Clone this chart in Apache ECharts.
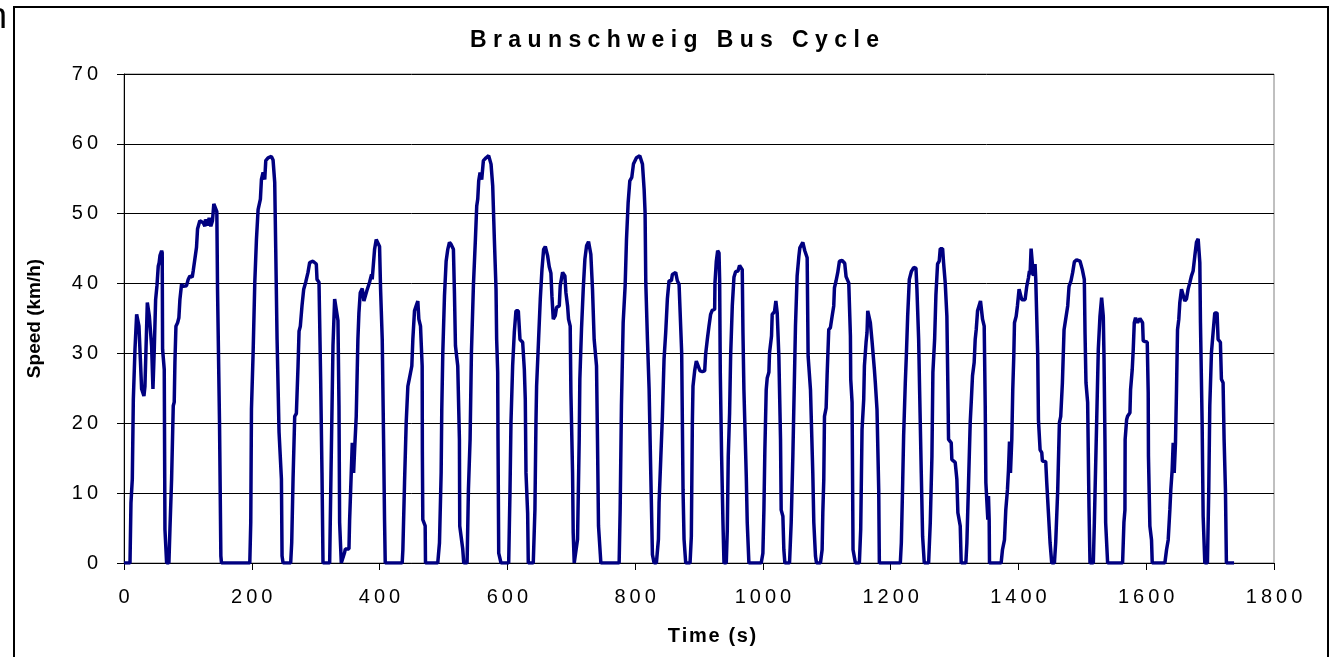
<!DOCTYPE html>
<html>
<head>
<meta charset="utf-8">
<script src="https://cdn.jsdelivr.net/npm/echarts@6/dist/echarts.min.js"></script>
<style>
  html, body { margin: 0; padding: 0; background: #fff; }
  #chart { width: 1332px; height: 657px; }
</style>
</head>
<body>
<div id="chart"></div>
<script>
// Braunschweig bus cycle
const timeS = [
  0, 9.4, 10.9, 13, 14.6, 17.2, 19.8, 22.4, 23.4, 27.6, 31.2, 32.8, 36.5, 39.6, 43.2, 45.3, 47.4, 49.5, 51.6, 53.6,
  55, 56.3, 58.9, 59.8, 60.4, 63, 64.1, 66.7, 70.3, 71.9, 74.5, 77.1, 78.6, 79.7, 81.3, 83.9, 85.9, 87.5, 90.1, 92.7,
  95.3, 97.9, 100.5, 103.1, 106.8, 108.3, 110.9, 113.5, 115.1, 118.7, 121.4, 124, 126.6, 127.6, 130.7, 133.3, 135.9, 138.5, 140.6, 143.2,
  145.3, 146.4, 149.5, 151.6, 152.6, 196.9, 198.4, 199.5, 202.1, 204.7, 207.3, 209.9, 213.5, 215.1, 217.7, 220.3, 221.9, 225.5, 230.7, 233.3,
  235.9, 237.5, 239.6, 242.7, 246.4, 247.4, 249, 260.9, 262.5, 264.6, 267.2, 269.8, 272.4, 274, 276, 278.6, 281.3, 284.4, 288, 290.6,
  295.8, 301, 302.1, 305.2, 306.3, 307.8, 309.9, 311.5, 321.9, 324, 327.1, 329.7, 332.3, 334.9, 336.5, 337.5, 340.1, 345.3, 346.4, 352.1,
  353.1, 355.7, 357.3, 359.4, 361, 363.5, 366.1, 367.7, 369.8, 372.9, 375.5, 378.1, 380.2, 384.4, 387.5, 388.5, 392.2, 394.8, 397.4, 400,
  401.6, 404.2, 406.3, 407.8, 408.9, 435.4, 436.5, 439.1, 441.7, 444.3, 446.9, 450.5, 452.1, 454.7, 457.3, 459.9, 461.5, 464.1, 466.7, 467,
  467.7, 471.4, 471.9, 491.1, 493.8, 496.4, 497.4, 499, 501.6, 504.2, 506.8, 509.4, 512, 515.6, 517.2, 518.8, 522.4, 525, 525.5, 530.2,
  531.8, 537, 539.1, 541.7, 543.8, 546.9, 550, 552.1, 553.7, 555.2, 557.3, 559.9, 562.5, 566.7, 570.8, 574.5, 577.1, 579.7, 582.3, 583.3,
  584.9, 585.4, 586.5, 590.1, 602.1, 604.2, 605.7, 608.3, 610.9, 613.5, 617.2, 619.8, 624, 626.6, 628.1, 629.2, 631.8, 632.8, 640.6, 643.2,
  644.8, 645.8, 648.9, 651.6, 654.2, 656.8, 659.4, 663, 665.6, 668.2, 669.8, 671.9, 675, 677.1, 681.3, 682.8, 686.5, 690.1, 691.7, 694.3,
  695.8, 698.4, 699.5, 702.1, 703.1, 704.7, 707.3, 709.9, 712.5, 713.5, 716.1, 718.8, 721.4, 724, 727.1, 730.7, 733.3, 735.9, 739.6, 741.1,
  742.7, 746.4, 775, 776.6, 778.6, 781.3, 784.4, 786.5, 789.1, 791.7, 794.8, 797.4, 802.1, 807.3, 811.5, 814.1, 815.6, 816.7, 819.3, 821.9,
  824.5, 827.1, 829.7, 833.3, 836.5, 837.5, 840.1, 842.7, 845.3, 847.9, 850.5, 853.1, 856.8, 858.3, 863.5, 866.1, 868.8, 871.4, 872.9, 875,
  876.6, 879.2, 886, 888, 889.6, 890.6, 893.2, 895.8, 898.4, 901.6, 905.2, 908.9, 910.4, 913, 915.6, 918.2, 920.8, 924.5, 925, 927.1,
  929.2, 931.3, 932.3, 933.3, 935.4, 937.5, 939.1, 942.7, 944.3, 945.8, 947.9, 949.5, 952.1, 954.7, 957.3, 961, 963.5, 967.7, 968.8, 970.3,
  974, 975.5, 978.1, 997.4, 1000, 1001.6, 1003.1, 1005.2, 1006.8, 1009.4, 1010.4, 1013.5, 1014.6, 1018.2, 1020.3, 1022.4, 1025, 1027.6, 1028.6, 1031.3,
  1032.8, 1034.4, 1041.7, 1044.3, 1046.9, 1049, 1051, 1053.6, 1056.3, 1057.8, 1062.5, 1065.6, 1069.3, 1070.8, 1074.5, 1078.1, 1079.7, 1082.3, 1083.9, 1090.1,
  1092.7, 1093.8, 1095.3, 1096.4, 1099, 1100.5, 1103.1, 1105.7, 1108.3, 1110.9, 1112, 1114.6, 1117.2, 1119.8, 1124, 1128.1, 1130.2, 1134.4, 1137, 1137.5,
  1139.6, 1141.1, 1144.8, 1151, 1153.1, 1155.2, 1157.8, 1158.9, 1161.5, 1163, 1164.1, 1167.2, 1168.2, 1170.8, 1172.4, 1174.5, 1176, 1178.6, 1181.3, 1182.3,
  1215.1, 1216.7, 1218.8, 1220.3, 1222.9, 1224.5, 1226.6, 1229.2, 1232.3, 1236, 1239.6, 1241.1, 1243.8, 1245.3, 1247.9, 1250, 1252.6, 1259.4, 1262, 1264.6,
  1266.1, 1268.8, 1270.8, 1273.4, 1276, 1277.6, 1281.3, 1282.8, 1285.4, 1288, 1289.6, 1290.6, 1294.8, 1295.8, 1301, 1303.6, 1305.2, 1308.9, 1310.4, 1317.7,
  1319.3, 1321.9, 1324.5, 1326.1, 1328.1, 1330.7, 1332.3, 1333.9, 1336, 1338.5, 1340.6, 1342.7, 1343.8, 1346.4, 1348, 1349, 1352.1, 1353.1, 1354.2, 1354.7,
  1372.9, 1375, 1378.1, 1380.2, 1382.8, 1384.4, 1386, 1387.5, 1389.6, 1391.1, 1392.7, 1393.8, 1396.4, 1398.4, 1401, 1402.6, 1405.2, 1410.4, 1413, 1415.6,
  1417.2, 1418.2, 1419.8, 1422.4, 1423.4, 1426, 1427.1, 1428.6, 1430.2, 1431.3, 1433.9, 1436.5, 1437.5, 1442.7, 1444.3, 1446.9, 1449.5, 1452.1, 1456.3, 1458.3,
  1461.5, 1464.1, 1466.2, 1468.8, 1471.4, 1474.5, 1477.1, 1479.2, 1482.3, 1484.9, 1487.5, 1491.1, 1496.4, 1500, 1503.1, 1504.2, 1505.7, 1508.3, 1510.4, 1512,
  1517.2, 1518.8, 1522.4, 1525, 1527.6, 1530.2, 1532.8, 1533.9, 1535.4, 1536.5, 1539.6, 1563, 1565.1, 1566.7, 1567, 1569.3, 1570.8, 1574.5, 1575.5, 1578.1,
  1579.7, 1581.3, 1583.3, 1586.5, 1590.1, 1594.3, 1595.3, 1597.9, 1601.6, 1603.1, 1603.5, 1605.7, 1608.3, 1609.4, 1629.2, 1631.8, 1634.4, 1637, 1638.5, 1640.6,
  1642.2, 1643.8, 1645.8, 1647.4, 1649, 1651, 1652.6, 1655.2, 1657.8, 1660.4, 1663, 1665.6, 1668.2, 1670.8, 1673.4, 1676, 1678.6, 1681.3, 1683.9, 1684.9,
  1687.5, 1689.1, 1691.7, 1695.8, 1697.9, 1699.5, 1702.1, 1704.7, 1707.3, 1710.9, 1712.5, 1716.1, 1717.7, 1720.3, 1721.9, 1724, 1725.5, 1737.5
];
const speedKmh = [
  0, 0, 8.6, 12, 23.4, 30.6, 35.6, 35.8, 33.9, 24.9, 23.9, 25.3, 37.3, 35.4, 31.1, 24.9, 30.6, 37.7, 39.7, 42.5,
  43, 44, 44.7, 44.4, 30.6, 27.7, 4.8, 0, 0, 4.8, 12, 22.5, 23, 28.7, 33.9, 34.4, 35.1, 37.7, 39.9, 39.6,
  39.4, 39.7, 40.6, 41.1, 40.9, 41.8, 42, 45.2, 47.8, 49, 49, 48.7, 48.2, 49.2, 48.3, 49.4, 48.2, 49, 51.4, 51.4,
  50.3, 39.2, 20.1, 1, 0, 0, 5.8, 22, 30.1, 40.1, 46.3, 50.6, 52.1, 54.9, 55.9, 54.9, 57.6, 58, 58.2, 57.7,
  54.5, 44.9, 32, 18.7, 12, 1, 0, 0, 2.9, 12, 21, 21.4, 28.2, 33.2, 33.9, 36.8, 39.2, 40.2, 41.6, 43,
  43.2, 42.8, 40.6, 40.2, 34.4, 26.3, 12.9, 0, 0, 12.9, 31.1, 37.8, 37.9, 34.7, 22.5, 5.8, 0, 1.5, 2, 2,
  6, 12.9, 17.2, 12.9, 16.3, 21, 32, 35.8, 38.7, 39.3, 37.5, 37.5, 39, 40.2, 41.3, 40.6, 44.9, 46.3, 46.5, 45.3,
  39.2, 32, 17.7, 6.2, 0, 0, 1.9, 11.5, 20.1, 25.3, 26.5, 28.2, 32, 36.1, 36.8, 37.5, 34.9, 33.9, 28.2, 15.8,
  6.2, 5.3, 0, 0, 2.9, 12.9, 22, 30.1, 38.2, 43.2, 44.9, 45.9, 45.6, 44.9, 38.7, 31.1, 28.2, 17.7, 5.3, 2,
  0, 0, 10.5, 17.7, 30.1, 39.7, 46.3, 51.1, 52.1, 54.7, 55.9, 54.9, 57.6, 58, 58.3, 57.1, 54, 46.3, 39.2, 32,
  27.3, 17.7, 1.4, 0, 0, 10.5, 20.1, 28.2, 33, 36.1, 36.1, 32, 31.6, 27.7, 23.4, 12.9, 7.1, 0, 0, 7.7,
  20.1, 25.3, 32, 37.8, 42, 44.9, 45.3, 44, 42.4, 41.5, 38.2, 34.9, 35.4, 36.6, 36.8, 39.7, 41.6, 41.1, 38.7, 36.8,
  34.9, 33.9, 24.4, 12.9, 4.3, 0, 0, 3.4, 17.7, 26.3, 33.5, 39.2, 43.5, 45.4, 46, 44.2, 39.2, 32, 28.2, 17.7,
  5.3, 0, 0, 7.7, 22.5, 34.4, 39.7, 46.3, 51.6, 54.7, 55.2, 57.1, 58, 58.3, 57.1, 53.5, 50.2, 40.2, 32, 24.9,
  12.9, 1.2, 0, 0, 3.4, 8.6, 14.8, 21, 29.2, 33, 37.8, 40.4, 40.4, 41.3, 41.6, 40.4, 39.9, 39.7, 30.1, 10.5,
  3.4, 0, 0, 3.8, 20.1, 25.3, 27.5, 28.9, 28.9, 27.5, 27.4, 27.5, 29.9, 32, 33.9, 35.6, 36.2, 36.3, 40.1, 43.2,
  44.7, 44.4, 40.6, 27.3, 15.3, 5.8, 0, 0, 4.8, 15.3, 21.5, 29.6, 36.8, 40.9, 41.7, 41.8, 42.6, 42, 33, 24.8,
  12.4, 5.8, 0, 0, 1.4, 7.6, 16.2, 24.8, 26.5, 27.3, 30.1, 32.5, 35.6, 36, 37.5, 35.8, 29.6, 17.7, 7.6, 6.7,
  1.9, 0, 0, 5.8, 15.3, 24.8, 33.9, 41.1, 43.9, 45.1, 45.9, 44.7, 43.7, 29.6, 24.8, 12.9, 5.8, 1, 0, 0,
  1.9, 7.2, 11.9, 21, 22.2, 26.8, 33.4, 33.7, 35.3, 36.8, 39.4, 40.4, 41.6, 43.2, 43.3, 42.9, 41, 40.1, 32.5, 26.3,
  23, 1.9, 0, 0, 4.8, 19.1, 23.4, 28.2, 31.6, 33, 36.1, 36.1, 34.4, 31.8, 31.6, 27.7, 25.8, 22, 10.5, 0,
  0, 2.9, 11.5, 18.2, 25.8, 29.6, 35.3, 40.6, 41.7, 42.3, 42.2, 39.2, 32, 24.8, 12.9, 3.8, 0, 0, 5.8, 15.3,
  27.3, 32, 38.3, 42.8, 43.2, 45, 45, 43, 40.1, 35.3, 24.8, 17.7, 17.2, 14.8, 14.4, 12, 7.2, 5.3, 0, 0,
  2.9, 11.5, 20.1, 23, 26.8, 28.7, 32, 33.4, 36.1, 35.9, 37.5, 37.5, 34.9, 33.9, 22.5, 11.5, 6.2, 9.6, 6.2, 0,
  0, 1.9, 3.3, 7.6, 10.5, 13.3, 17.4, 12.9, 17.7, 24.8, 29.6, 34.4, 35.3, 36.8, 39.2, 39.4, 37.7, 37.7, 39.6, 40.8,
  41.8, 41.3, 45, 44.9, 41.1, 42.8, 40.6, 35.3, 29.6, 20.5, 16.2, 15.8, 14.6, 14.5, 11.5, 7.2, 2.9, 0, 0, 2.9,
  10.5, 20.1, 21, 25.8, 33.4, 33.6, 36.8, 39.6, 40.4, 41.6, 43.1, 43.4, 43.2, 42, 40.6, 33, 25.8, 23, 8.1, 0,
  0, 5.8, 20.1, 30.6, 35.3, 38, 35.3, 29.6, 17.7, 5.8, 0, 0, 5.8, 7.6, 17.7, 20.5, 21, 21.5, 24.8, 27.7,
  30.6, 34.4, 35.1, 34.4, 35, 34.4, 31.8, 31.6, 31.6, 24.4, 15.3, 5.3, 3.3, 0, 0, 1.9, 3.3, 7.6, 10.5, 13.3,
  17.2, 12.9, 17.2, 24.8, 33.4, 34.9, 37.3, 39.2, 39.2, 37.5, 37.8, 39.2, 40.1, 41.1, 41.8, 43.9, 45.9, 46.4, 43, 34.4,
  20.1, 6.7, 0, 0, 10.5, 22.5, 30.1, 33, 35.8, 35.8, 32, 31.6, 26.3, 25.8, 17.7, 10.5, 0, 0
];
const xTicks = { min: 0, max: 1800, step: 200 };
const yTicks = { min: 0, max: 70, step: 10 };
const chartTitle = 'Braunschweig Bus Cycle';
const xName = 'Time (s)';
const yName = 'Speed (km/h)';

// old Excel look: characters spread apart
function spaced(s, gap) {
  return s.split('').join(gap);
}

const points = timeS.map((t, i) => [t, speedKmh[i]]);

const chart = echarts.init(document.getElementById('chart'), null, { renderer: 'canvas' });

chart.setOption({
  animation: false,
  backgroundColor: '#fff',
  title: {
    text: spaced(chartTitle, ' '),
    left: 465,
    top: 24,
    textStyle: { fontFamily: 'Liberation Sans', fontWeight: 'bold', fontSize: 23, color: '#000' }
  },
  grid: {
    left: 124, right: 58, top: 74, bottom: 94,
    show: true, borderColor: '#808080', borderWidth: 1
  },
  xAxis: {
    type: 'value',
    min: xTicks.min, max: xTicks.max, interval: xTicks.step,
    axisLine: { show: true, lineStyle: { color: '#000', width: 1 } },
    axisTick: { show: true, length: 7, lineStyle: { color: '#000' } },
    splitLine: { show: false },
    axisLabel: {
      margin: 24,
      fontFamily: 'Liberation Sans', fontSize: 20, color: '#000',
      formatter: v => spaced(String(v), '\u2009')
    }
  },
  yAxis: {
    type: 'value',
    min: yTicks.min, max: yTicks.max, interval: yTicks.step,
    name: yName,
    nameLocation: 'middle',
    nameRotate: 90,
    nameGap: 80,
    nameTextStyle: { fontFamily: 'Liberation Sans', fontWeight: 'bold', fontSize: 19, color: '#000' },
    axisLine: { show: true, lineStyle: { color: '#000', width: 1 } },
    axisTick: { show: true, length: 7, lineStyle: { color: '#000' } },
    splitLine: { show: true, lineStyle: { color: '#000', width: 1 } },
    axisLabel: {
      margin: 26,
      fontFamily: 'Liberation Sans', fontSize: 20, color: '#000',
      formatter: v => spaced(String(v), '\u2009')
    }
  },
  series: [{
    type: 'line',
    data: points,
    showSymbol: false,
    lineStyle: { color: '#000080', width: 3.5 },
    itemStyle: { color: '#000080' }
  }],
  graphic: [
    {
      type: 'rect',
      shape: { x: 14, y: 7, width: 1314, height: 700 },
      style: { fill: null, stroke: '#000', lineWidth: 2 },
      silent: true
    },
    {
      type: 'text',
      x: -13, y: 0,
      style: { text: 'n', font: '36px "Liberation Sans"', fill: '#000' },
      silent: true
    },
    {
      // x axis title, placed where the reference has it
      type: 'text',
      x: 712, y: 636,
      style: {
        text: spaced(xName, '\u200A'),
        font: 'bold 20px "Liberation Sans"', fill: '#000',
        align: 'center', verticalAlign: 'middle'
      },
      silent: true
    }
  ]
});
</script>
</body>
</html>
